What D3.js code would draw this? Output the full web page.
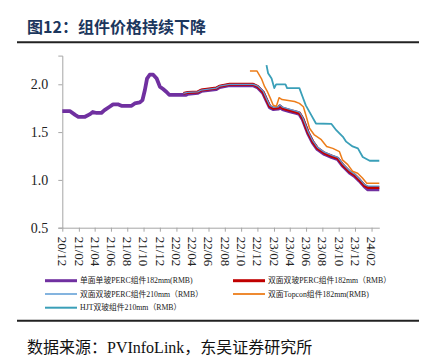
<!DOCTYPE html>
<html><head><meta charset="utf-8">
<script src="https://cdn.jsdelivr.net/npm/d3@7"></script>
<style>
body{margin:0;background:#fff;}
svg{display:block;}
</style></head>
<body>
<svg id="c" width="429" height="358"></svg>
<script>
// ---- data ----
const seriesNames = [
  "单面单玻PERC组件182mm(RMB)",
  "双面双玻PERC组件182mm（RMB）",
  "双面双玻PERC组件210mm（RMB）",
  "双面Topcon组件182mm(RMB)",
  "HJT双玻组件210mm（RMB）"
];
const xTickLabels = ["20/12","21/02","21/04","21/06","21/08","21/10","21/12","22/02","22/04","22/06","22/08","22/10","22/12","23/02","23/04","23/06","23/08","23/10","23/12","24/02"];
const yTicks = [0.5, 1.0, 1.5, 2.0];

const mono182 = [
 ["2020-12-01",1.72],["2020-12-29",1.72],["2021-01-18",1.68],["2021-01-30",1.66],["2021-02-24",1.66],
 ["2021-03-13",1.685],["2021-03-25",1.71],["2021-04-08",1.70],["2021-04-26",1.70],["2021-05-08",1.73],
 ["2021-05-27",1.765],["2021-06-09",1.79],["2021-06-27",1.79],["2021-07-10",1.775],["2021-08-17",1.775],
 ["2021-08-29",1.80],["2021-09-17",1.81],["2021-09-27",1.835],["2021-10-06",1.94],["2021-10-14",2.06],
 ["2021-10-24",2.10],["2021-11-06",2.10],["2021-11-19",2.06],["2021-12-01",1.975],["2021-12-13",1.95],
 ["2021-12-26",1.92],["2022-01-05",1.89],["2022-03-10",1.89],["2022-03-15",1.90],["2022-04-22",1.91],
 ["2022-05-05",1.93],["2022-06-30",1.95],["2022-07-12",1.97],["2022-08-19",1.99],["2022-11-15",1.99],
 ["2022-12-03",1.965],["2022-12-22",1.91],["2023-01-04",1.83],["2023-01-16",1.76],["2023-01-29",1.74],
 ["2023-02-17",1.745],["2023-02-23",1.765],["2023-03-05",1.74],["2023-03-30",1.72],["2023-04-25",1.70],
 ["2023-05-07",1.69],["2023-05-19",1.635],["2023-06-08",1.49],["2023-06-26",1.39],["2023-07-14",1.32],
 ["2023-08-09",1.27],["2023-09-04",1.24],["2023-09-28",1.215],["2023-10-17",1.145],["2023-11-11",1.075],
 ["2023-11-30",1.04],["2023-12-18",0.99],["2024-01-06",0.93],["2024-01-19",0.90],["2024-03-01",0.90]
];
const bi182 = [
 ["2022-02-27",1.905],["2022-03-15",1.915],["2022-04-22",1.92],["2022-05-05",1.94],["2022-06-30",1.96],
 ["2022-07-12",1.98],["2022-08-19",2.00],["2022-11-15",2.00],["2022-12-03",1.975],["2022-12-22",1.92],
 ["2023-01-04",1.84],["2023-01-16",1.77],["2023-01-29",1.75],["2023-02-17",1.755],["2023-02-23",1.775],
 ["2023-03-05",1.75],["2023-03-30",1.73],["2023-04-25",1.71],["2023-05-07",1.70],["2023-05-19",1.645],
 ["2023-06-08",1.50],["2023-06-26",1.40],["2023-07-14",1.33],["2023-08-09",1.28],["2023-09-04",1.25],
 ["2023-09-28",1.225],["2023-10-17",1.155],["2023-11-11",1.085],["2023-11-30",1.05],["2023-12-18",1.00],
 ["2024-01-06",0.94],["2024-01-19",0.92],["2024-03-01",0.92]
];
const bi210 = [
 ["2022-02-27",1.905],["2022-03-15",1.915],["2022-04-22",1.92],["2022-05-05",1.94],["2022-06-30",1.96],
 ["2022-07-12",1.98],["2022-08-19",2.00],["2022-11-15",2.00],["2022-12-03",1.98],["2022-12-22",1.93],
 ["2023-01-04",1.85],["2023-01-16",1.78],["2023-01-29",1.76],["2023-02-17",1.765],["2023-02-23",1.785],
 ["2023-03-05",1.76],["2023-03-30",1.74],["2023-04-25",1.72],["2023-05-07",1.71],["2023-05-19",1.655],
 ["2023-06-08",1.51],["2023-06-26",1.41],["2023-07-14",1.34],["2023-08-09",1.29],["2023-09-04",1.26],
 ["2023-09-28",1.235],["2023-10-17",1.165],["2023-11-11",1.095],["2023-11-30",1.06],["2023-12-18",1.01],
 ["2024-01-06",0.95],["2024-01-19",0.935],["2024-03-01",0.935]
];
const topcon182 = [
 ["2022-11-03",2.14],["2022-11-29",2.14],["2022-12-16",2.06],["2022-12-28",1.975],["2023-01-08",1.92],
 ["2023-01-19",1.85],["2023-01-29",1.78],["2023-02-10",1.77],["2023-02-20",1.86],["2023-03-03",1.84],
 ["2023-04-19",1.82],["2023-05-07",1.80],["2023-05-22",1.765],["2023-06-02",1.66],["2023-06-14",1.54],
 ["2023-07-02",1.47],["2023-07-28",1.42],["2023-08-17",1.35],["2023-09-09",1.33],["2023-10-04",1.295],
 ["2023-10-15",1.21],["2023-11-04",1.16],["2023-11-22",1.09],["2023-12-11",1.07],["2023-12-29",1.02],
 ["2024-01-14",0.965],["2024-03-01",0.965]
];
const hjt210 = [
 ["2023-01-04",2.20],["2023-01-10",2.115],["2023-01-23",2.06],["2023-02-02",1.96],["2023-02-09",2.00],
 ["2023-03-16",2.00],["2023-03-22",1.96],["2023-05-07",1.96],["2023-05-19",1.87],["2023-05-31",1.78],
 ["2023-06-20",1.68],["2023-07-08",1.59],["2023-09-04",1.585],["2023-09-22",1.52],["2023-10-17",1.45],
 ["2023-10-29",1.40],["2023-11-22",1.35],["2023-12-12",1.33],["2023-12-30",1.24],["2024-01-25",1.20],
 ["2024-03-01",1.20]
];

// ---- drawing ----
const svg = d3.select("#c");
const parse = d3.timeParse("%Y-%m-%d");
const serifFont = "'Liberation Serif','Times New Roman','Noto Sans CJK SC',serif";

const x = d3.scaleTime().domain([parse("2020-12-01"), parse("2024-03-01")]).range([62.3, 379.3]);
const y = d3.scaleLinear().domain([0.5, 2.3]).range([227.7, 55.6]);

// title
svg.append("text").attr("x", 27).attr("y", 33)
  .attr("font-family", "'Noto Sans CJK SC',sans-serif").attr("font-weight", "bold")
  .attr("font-size", 16).attr("fill", "#1b365d").text("图12：组件价格持续下降");
svg.append("line").attr("x1", 17).attr("x2", 419).attr("y1", 42.3).attr("y2", 42.3)
  .attr("stroke", "#222").attr("stroke-width", 2);
svg.append("line").attr("x1", 17).attr("x2", 419).attr("y1", 320.7).attr("y2", 320.7)
  .attr("stroke", "#222").attr("stroke-width", 2);
svg.append("text").attr("x", 27).attr("y", 353)
  .attr("font-family", serifFont).attr("font-size", 16).attr("fill", "#111")
  .text("数据来源：PVInfoLink，东吴证券研究所");

// axes
const yAxis = d3.axisLeft(y).tickValues(yTicks).tickFormat(d3.format(".1f")).tickSize(4).tickPadding(10);
const gy = svg.append("g").attr("transform", "translate(62.3,0)").call(yAxis);
gy.select(".domain").attr("stroke", "#a6a6a6");
gy.selectAll(".tick line").attr("stroke", "#a6a6a6");
gy.selectAll(".tick text").attr("font-family", serifFont).attr("font-size", 14).attr("fill", "#222");

const xTickDates = xTickLabels.map(s => d3.timeParse("%y/%m")(s));
const xAxis = d3.axisBottom(x).tickValues(xTickDates).tickFormat((d, i) => xTickLabels[i]).tickSize(4).tickSizeOuter(0);
const gx = svg.append("g").attr("transform", "translate(0,227.7)").call(xAxis);
gx.select(".domain").attr("stroke", "#a6a6a6");
gx.selectAll(".tick line").attr("stroke", "#a6a6a6");
gx.selectAll(".tick text").attr("font-family", serifFont).attr("font-size", 13).attr("fill", "#222")
  .attr("text-anchor", "start").attr("transform", "rotate(90)").attr("x", 9).attr("y", 0).attr("dy", "0.35em");

// lines
const line = d3.line().x(d => x(parse(d[0]))).y(d => y(d[1]));
const series = [
  {data: mono182, color: "#7030a0", w: 3.8},
  {data: bi182, color: "#c00000", w: 3.0},
  {data: bi210, color: "#5b9bd5", w: 1.3},
  {data: topcon182, color: "#ed7d1a", w: 1.5},
  {data: hjt210, color: "#3a9fb8", w: 1.8}
];
series.forEach(s => {
  svg.append("path").datum(s.data).attr("d", line).attr("fill", "none")
    .attr("stroke", s.color).attr("stroke-width", s.w).attr("stroke-linejoin", "round");
});

// legend
const legPos = [[45, 280.7], [233, 280.7], [45, 294], [233, 294], [45, 307.7]];
const legW = [3, 3, 1.5, 1.8, 2];
seriesNames.forEach((n, i) => {
  const [lx, ly] = legPos[i];
  svg.append("line").attr("x1", lx).attr("x2", lx + 32).attr("y1", ly).attr("y2", ly)
    .attr("stroke", series[i].color).attr("stroke-width", legW[i]);
  svg.append("text").attr("x", lx + 35).attr("y", ly).attr("dy", "0.35em")
    .attr("font-family", serifFont).attr("font-size", 7.8).attr("fill", "#222").text(n);
});
</script>
</body></html>
